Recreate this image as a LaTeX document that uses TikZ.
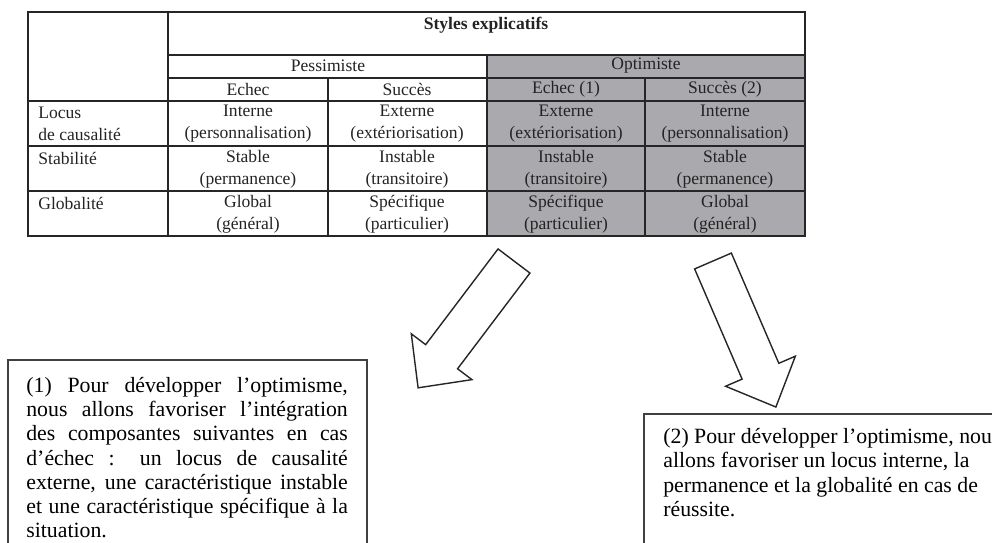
\documentclass[tikz,border=0pt]{standalone}
\usepackage{fontspec}
\setmainfont{Liberation Serif}
\definecolor{optgrey}{RGB}{170,170,174}
\definecolor{inkgrey}{RGB}{35,35,35}
\tikzset{
  tabline/.style={draw=black!85, line width=1.1pt},
  cell/.style={font=\fontsize{10}{12.5}\selectfont, text=inkgrey, align=center, inner sep=0pt},
  rowlabel/.style={cell, align=left, anchor=west},
  notebox/.style={draw=black!75, line width=0.85pt},
  notetext/.style={font=\fontsize{12.4}{13.8}\selectfont, inner sep=0pt, anchor=north west},
  arrowline/.style={draw=black!85, line width=0.8pt, line join=miter},
  bigarrow/.pic={\draw[arrowline] (0,-20) -- (120,-20) -- (120,-38) -- (159,0) -- (120,38) -- (120,20) -- (0,20) -- cycle;}
}
\begin{document}
\begin{tikzpicture}[x=0.02cm,y=-0.02cm]
  \useasboundingbox (0,0) rectangle (992,542);
  \clip (0,0) rectangle (992,542);

  % table
  \fill[optgrey] (487,55) rectangle (805,236);
  \draw[tabline] (28,12) rectangle (805,236);
  \draw[tabline] (168,55) -- (805,55);
  \draw[tabline] (168,78) -- (805,78);
  \draw[tabline] (28,101) -- (805,101);
  \draw[tabline] (28,146) -- (805,146);
  \draw[tabline] (28,191) -- (805,191);
  \draw[tabline] (168,12) -- (168,236);
  \draw[tabline] (487,55) -- (487,236);
  \draw[tabline] (328,78) -- (328,236);
  \draw[tabline] (645,78) -- (645,236);

  \node[cell, font=\fontsize{10}{12.5}\selectfont\bfseries] (styles) at (486,25) {Styles explicatifs};
  \node[cell] (pess) at (328,66) {Pessimiste};
  \node[cell] (opti) at (646,66) {Optimiste};
  \node[cell] (pechec) at (248,89) {Echec};
  \node[cell] (psucces) at (407,89) {Succès};
  \node[cell] (oechec) at (566,89) {Echec (1)};
  \node[cell] (osucces) at (725,89) {Succès (2)};

  \node[rowlabel] (locus) at (38,124) {Locus\\de causalité};
  \node[rowlabel] (stab) at (38,158) {Stabilité};
  \node[rowlabel] (glob) at (38,203) {Globalité};

  \node[cell] (locpe) at (248,124) {Interne\\(personnalisation)};
  \node[cell] (locps) at (407,124) {Externe\\(extériorisation)};
  \node[cell] (locoe) at (566,124) {Externe\\(extériorisation)};
  \node[cell] (locos) at (725,124) {Interne\\(personnalisation)};

  \node[cell] (stape) at (248,169) {Stable\\(permanence)};
  \node[cell] (staps) at (407,169) {Instable\\(transitoire)};
  \node[cell] (staoe) at (566,169) {Instable\\(transitoire)};
  \node[cell] (staos) at (725,169) {Stable\\(permanence)};

  \node[cell] (glope) at (248,214) {Global\\(général)};
  \node[cell] (glops) at (407,214) {Spécifique\\(particulier)};
  \node[cell] (glooe) at (566,214) {Spécifique\\(particulier)};
  \node[cell] (gloos) at (725,214) {Global\\(général)};

  % block arrows
  \pic[rotate=232.9] at (514,261) {bigarrow};
  \pic[rotate=-66.7] at (713,261) {bigarrow};

  % notes
  \draw[notebox] (8,360) rectangle (367,600);
  \node[notetext, text width=183pt, align=justify] (note1) at (26,377)
    {(1) Pour développer l'optimisme,\linebreak
     nous allons favoriser l'intégration\linebreak
     des composantes suivantes en cas\linebreak
     d'échec : un locus de causalité\linebreak
     externe, une caractéristique instable\linebreak
     et une caractéristique spécifique à la\linebreak
     situation.};

  \draw[notebox] (644,414) rectangle (1050,600);
  \node[notetext, align=left] (note2) at (663,428)
    {(2) Pour développer l'optimisme, nous\\
     allons favoriser un locus interne, la\\
     permanence et la globalité en cas de\\
     réussite.};
\end{tikzpicture}
\end{document}
